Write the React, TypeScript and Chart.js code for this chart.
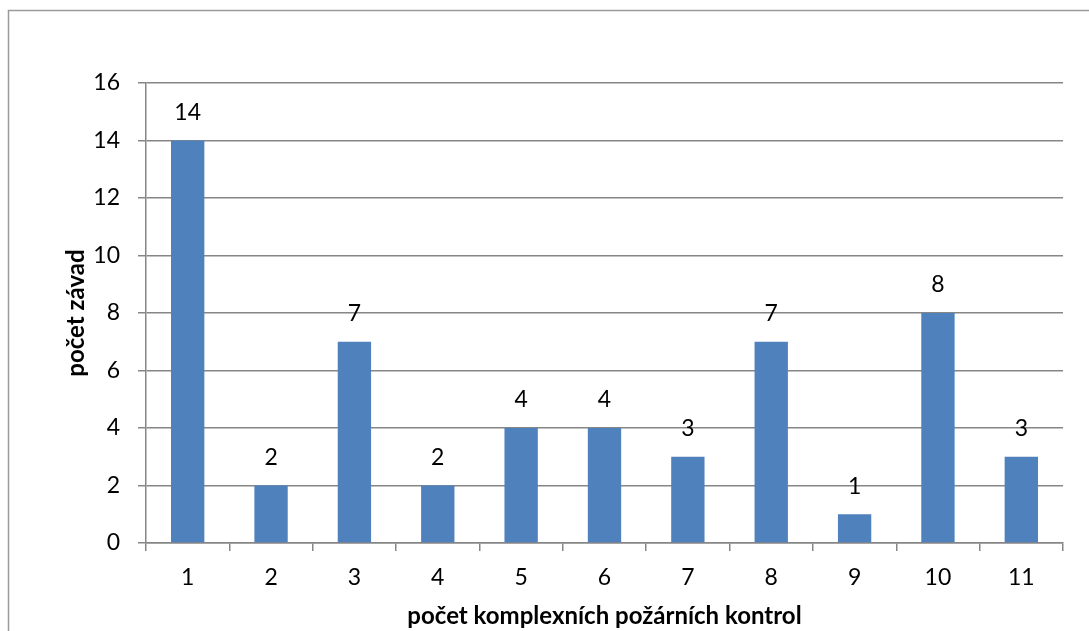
import React, { useEffect, useRef } from "react";
import { Chart, registerables } from "chart.js";

Chart.register(...registerables);

const categories = ["1", "2", "3", "4", "5", "6", "7", "8", "9", "10", "11"];
const values = [14, 2, 7, 2, 4, 4, 3, 7, 1, 8, 3];
const yTicks = [0, 2, 4, 6, 8, 10, 12, 14, 16];
const xTitle = "počet komplexních požárních kontrol";
const yTitle = "počet závad";

const FONT = "Lato, 'Open Sans', sans-serif";
const GRID = "#868686";

const framePlugin = {
  id: "frame",
  beforeDraw(chart: any) {
    const ctx = chart.ctx;
    ctx.save();
    ctx.fillStyle = "#ffffff";
    ctx.fillRect(0, 0, chart.width, chart.height);
    ctx.strokeStyle = "#9a9a9a";
    ctx.lineWidth = 1.5;
    ctx.strokeRect(8.5, 10.5, chart.width + 20, chart.height + 20);
    ctx.restore();
  },
};

const labelPlugin = {
  id: "barLabels",
  afterDatasetsDraw(chart: any) {
    const ctx = chart.ctx;
    const meta = chart.getDatasetMeta(0);
    ctx.save();
    ctx.fillStyle = "#000000";
    ctx.font = `23px ${FONT}`;
    ctx.textAlign = "center";
    ctx.textBaseline = "middle";
    meta.data.forEach((bar: any, i: number) => {
      ctx.fillText(String(values[i]), bar.x, bar.y - 28);
    });
    ctx.restore();
  },
};

export default function App() {
  const ref = useRef<HTMLCanvasElement>(null);
  useEffect(() => {
    const chart = new Chart(ref.current!, {
      type: "bar",
      data: {
        labels: categories,
        datasets: [
          {
            data: values,
            backgroundColor: "#4f81bd",
            borderWidth: 0,
            barPercentage: 0.4,
            categoryPercentage: 1,
          },
        ],
      },
      options: {
        responsive: false,
        animation: false,
        devicePixelRatio: 1,
        layout: { padding: { left: 62, top: 83, right: 26, bottom: 0 } },
        plugins: { legend: { display: false }, tooltip: { enabled: false } },
        scales: {
          x: {
            offset: true,
            afterFit(scale: any) {
              scale.height = 88;
            },
            grid: {
              display: true,
              drawOnChartArea: false,
              drawTicks: true,
              tickLength: 8,
              offset: true,
              color: GRID,
              lineWidth: 1.5,
            },
            border: { display: true, color: GRID, width: 1.5 },
            ticks: { color: "#000", font: { family: FONT, size: 23 }, padding: 13 },
            title: {
              display: true,
              text: xTitle,
              color: "#000",
              font: { family: FONT, size: 24, weight: "bold" },
              padding: { top: 0, bottom: 0 },
            },
          },
          y: {
            min: 0,
            max: 16,
            afterFit(scale: any) {
              scale.width = 84;
            },
            afterBuildTicks(scale: any) {
              scale.ticks = yTicks.map((v) => ({ value: v }));
            },
            grid: {
              color: GRID,
              lineWidth: 1.5,
              tickLength: 8,
            },
            border: { display: true, color: GRID, width: 1.5 },
            ticks: { color: "#000", font: { family: FONT, size: 23 }, padding: 18 },
            title: {
              display: true,
              text: yTitle,
              color: "#000",
              font: { family: FONT, size: 24, weight: "bold" },
              padding: { top: 0, bottom: 0 },
            },
          },
        },
      },
      plugins: [framePlugin, labelPlugin],
    } as any);
    return () => chart.destroy();
  }, []);
  return (
    <canvas
      ref={ref}
      width={1089}
      height={631}
      style={{ position: "absolute", left: 0, top: 0, width: 1089, height: 631 }}
    />
  );
}
